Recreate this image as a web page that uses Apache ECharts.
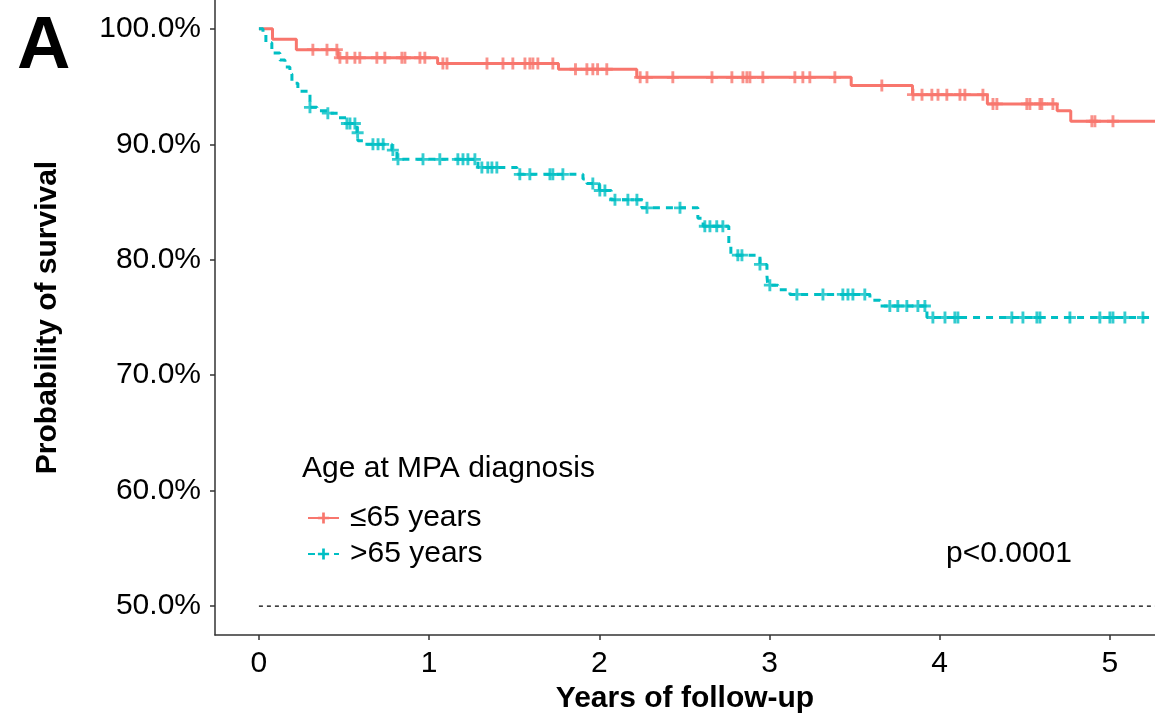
<!DOCTYPE html>
<html>
<head>
<meta charset="utf-8">
<script src="https://cdn.jsdelivr.net/npm/echarts@6/dist/echarts.min.js"></script>
<style>
html,body{margin:0;padding:0;background:#fff;}
#chart{width:1155px;height:720px;}
</style>
</head>
<body>
<div id="chart"></div>
<script>
// Kaplan-Meier step data (years, survival %)
const youngName = '\u226465 years';
const oldName = '>65 years';
const youngTimes = [0, 0.08, 0.22, 0.465, 1.05, 1.76, 2.22, 3.48, 3.84, 4.28, 4.69, 4.77, 5.265];
const youngSurv  = [100, 99.1, 98.2, 97.5, 97.0, 96.5, 95.8, 95.1, 94.3, 93.5, 92.9, 92.0, 92.0];
const youngCensor = [0.317, 0.40, 0.458, 0.476, 0.517, 0.564, 0.593, 0.693, 0.74, 0.84, 0.858, 0.946, 0.975,
  1.081, 1.105, 1.34, 1.434, 1.492, 1.563, 1.592, 1.61, 1.639, 1.727, 1.86, 1.927, 1.962, 1.99, 2.044,
  2.24, 2.28, 2.432, 2.662, 2.779, 2.844, 2.867, 2.885, 2.961, 3.149, 3.196, 3.237, 3.384, 3.66,
  3.843, 3.896, 3.954, 3.99, 4.042, 4.119, 4.148, 4.254, 4.313, 4.336, 4.512, 4.53, 4.589, 4.6, 4.665,
  4.894, 4.912, 5.018];

const oldTimes = [0, 0.024, 0.041, 0.076, 0.123, 0.153, 0.182, 0.194, 0.229, 0.30, 0.341, 0.405, 0.464,
  0.517, 0.576, 0.582, 0.623, 0.781, 0.811, 1.287, 1.516, 1.904, 1.927, 2.0, 2.07, 2.25, 2.579, 2.61,
  2.761, 2.773, 2.944, 2.985, 2.99, 3.05, 3.12, 3.59, 3.65, 3.925, 5.265];
const oldSurv = [100, 99.6, 98.8, 97.9, 97.3, 96.7, 96.1, 95.3, 94.6, 93.2, 92.9, 92.7, 92.3,
  91.8, 91.0, 90.3, 90.0, 89.5, 88.7, 88.0, 87.4, 87.0, 86.6, 86.0, 85.2, 84.5, 83.6, 82.9,
  81.3, 80.4, 79.6, 78.6, 77.8, 77.4, 77.0, 76.5, 76.0, 75.0, 75.0];
const oldCensor = [0.30, 0.405, 0.517, 0.535, 0.564, 0.58, 0.67, 0.70, 0.73, 0.787, 0.817, 0.964, 1.063,
  1.169, 1.199, 1.228, 1.269, 1.31, 1.345, 1.369, 1.398, 1.533, 1.592, 1.71, 1.727, 1.786, 1.962, 2.003,
  2.033, 2.092, 2.168, 2.221, 2.28, 2.474, 2.62, 2.65, 2.69, 2.726, 2.814, 2.838, 2.944, 3.002, 3.161,
  3.314, 3.431, 3.461, 3.49, 3.56, 3.707, 3.754, 3.807, 3.872, 3.913, 3.96, 4.031, 4.089, 4.107, 4.424,
  4.489, 4.571, 4.589, 4.765, 4.941, 5.0, 5.018, 5.088, 5.194];

const xTicks = [0, 1, 2, 3, 4, 5];
const yTicks = [50, 60, 70, 80, 90, 100];
const medianRef = 50;

function stepPairs(t, s) { return t.map((v, i) => [v, s[i]]); }
function censorPairs(times, t, s) {
  return times.map(c => {
    let v = s[0];
    for (let i = 0; i < t.length; i++) { if (t[i] <= c) v = s[i]; }
    return [c, v];
  });
}

const RED = '#F8766D', CYAN = '#00BFC4';
const PLUS = 'path://M3.8,0 h2.4 v10 h-2.4 z M0,3.8 h10 v2.4 h-10 z';
const FONT = "'Liberation Sans', Arial, sans-serif";

const chart = echarts.init(document.getElementById('chart'), null, {renderer: 'canvas'});
chart.setOption({
  animation: false,
  backgroundColor: '#fff',
  title: [
    {text: 'A', left: 12, top: 6, textStyle: {fontFamily: FONT, fontSize: 74, fontWeight: 'bold', color: '#000'}},
    {text: 'Age at MPA diagnosis', left: 297, top: 449, textStyle: {fontFamily: FONT, fontSize: 30, fontWeight: 'normal', color: '#000'}},
    {text: 'p<0.0001', left: 941, top: 534, textStyle: {fontFamily: FONT, fontSize: 30, fontWeight: 'normal', color: '#000'}}
  ],
  legend: {
    data: [youngName, oldName],
    orient: 'vertical',
    left: 302, top: 498,
    itemWidth: 31, itemHeight: 14, itemGap: 6,
    textStyle: {fontFamily: FONT, fontSize: 30, color: '#000', padding: [0, 0, 0, 6]},
    selectedMode: false
  },
  grid: {left: 215, right: 0, top: -1, bottom: 85, containLabel: false},
  xAxis: {
    type: 'value', min: -0.258, max: 5.265, interval: 1,
    axisLine: {show: true, onZero: false, lineStyle: {color: '#333', width: 1.5}},
    axisTick: {show: true, length: 5, lineStyle: {color: '#333', width: 1.5},
      customValues: xTicks},
    axisLabel: {fontFamily: FONT, fontSize: 30, color: '#000', margin: 14,
      customValues: xTicks, formatter: v => String(v)},
    splitLine: {show: false},
    name: 'Years of follow-up', nameLocation: 'middle', nameGap: 47,
    nameTextStyle: {fontFamily: FONT, fontSize: 30, fontWeight: 'bold', color: '#000'}
  },
  yAxis: {
    type: 'value', min: 47.5, max: 102.5,
    axisLine: {show: true, onZero: false, lineStyle: {color: '#333', width: 1.5}},
    axisTick: {show: true, length: 5, lineStyle: {color: '#333', width: 1.5}, customValues: yTicks},
    axisLabel: {fontFamily: FONT, fontSize: 30, color: '#000', margin: 14,
      customValues: yTicks, formatter: v => v.toFixed(1) + '%'},
    splitLine: {show: false},
    name: 'Probability of survival', nameLocation: 'middle', nameGap: 152,
    nameTextStyle: {fontFamily: FONT, fontSize: 30, fontWeight: 'bold', color: '#000'}
  },
  series: [
    {
      name: 'median', type: 'line', data: [[0, medianRef], [5.265, medianRef]],
      showSymbol: false, symbol: 'none', silent: true,
      lineStyle: {color: '#000', width: 1.3, type: [4, 4]}
    },
    {
      name: youngName, type: 'line', step: 'end', data: stepPairs(youngTimes, youngSurv),
      symbol: PLUS, showSymbol: false, color: RED,
      lineStyle: {color: RED, width: 3, type: 'solid'}
    },
    {
      name: oldName, type: 'line', step: 'end', data: stepPairs(oldTimes, oldSurv),
      symbol: PLUS, showSymbol: false, color: CYAN,
      lineStyle: {color: CYAN, width: 3, type: [7, 6]}
    },
    {
      name: youngName + ' censor', type: 'scatter', data: censorPairs(youngCensor, youngTimes, youngSurv),
      symbol: PLUS, symbolSize: 12, itemStyle: {color: RED}
    },
    {
      name: oldName + ' censor', type: 'scatter', data: censorPairs(oldCensor, oldTimes, oldSurv),
      symbol: PLUS, symbolSize: 12, itemStyle: {color: CYAN}
    }
  ]
});
</script>
</body>
</html>
